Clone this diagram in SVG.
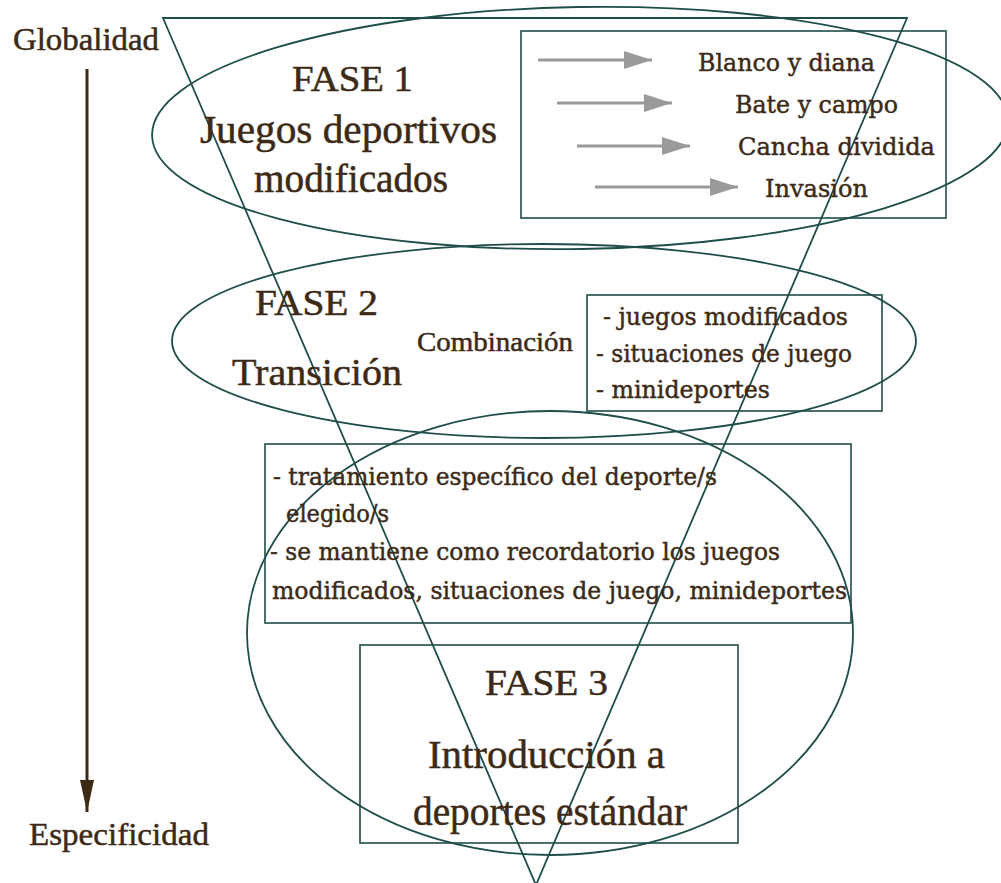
<svg xmlns="http://www.w3.org/2000/svg" width="1001" height="883" viewBox="0 0 1001 883">
  <style>
    .shape { fill: none; stroke: #1f4d48; stroke-width: 1.8; }
    .box { fill: none; stroke: #1f4d48; stroke-width: 1.6; }
    .t { fill: #3c2a17; stroke: #3c2a17; stroke-width: 0.5; font-family: "Liberation Serif", "Times New Roman", serif; }
    .s { fill: #3c2a17; stroke: #3c2a17; stroke-width: 0.45; font-family: "DejaVu Serif", "Liberation Serif", serif; }
    .garrow { stroke: #9a9a9a; stroke-width: 3; fill: none; }
    .axis { stroke: #3b2a14; stroke-width: 3; fill: none; }
  </style>
  <defs>
    <marker id="grayHead" markerUnits="userSpaceOnUse" markerWidth="28" markerHeight="18" refX="28" refY="9" orient="auto">
      <path d="M0,0 L28,9 L0,18 Z" fill="#9a9a9a"/>
    </marker>
    <marker id="axisHead" markerUnits="userSpaceOnUse" markerWidth="14" markerHeight="32" refX="7" refY="32" orient="0">
      <path d="M0,0 L14,0 L7,32 Z" fill="#3b2a14"/>
    </marker>
  </defs>
  <rect width="1001" height="883" fill="#ffffff"/>

  <g id="triangle">
    <polygon class="shape" points="163,18 907,18 536,885"/>
  </g>

  <g id="fase1">
    <ellipse class="shape" cx="580" cy="128" rx="428" ry="121" transform="rotate(-1 580 128)"/>
    <text class="t" x="292" y="91" font-size="36" textLength="121" lengthAdjust="spacingAndGlyphs">FASE 1</text>
    <text class="t" x="200" y="143" font-size="41" textLength="297" lengthAdjust="spacingAndGlyphs">Juegos deportivos</text>
    <text class="t" x="254" y="192" font-size="40" textLength="194" lengthAdjust="spacingAndGlyphs">modificados</text>
  </g>

  <g id="fase1-types">
    <rect class="box" x="521" y="31" width="425" height="187"/>
    <text class="s" x="698" y="71" font-size="25" textLength="177" lengthAdjust="spacingAndGlyphs">Blanco y diana</text>
    <text class="s" x="735" y="113" font-size="25" textLength="163" lengthAdjust="spacingAndGlyphs">Bate y campo</text>
    <text class="s" x="738" y="155" font-size="25" textLength="197" lengthAdjust="spacingAndGlyphs">Cancha dividida</text>
    <text class="s" x="765" y="197" font-size="25" textLength="103" lengthAdjust="spacingAndGlyphs">Invasión</text>
  </g>

  <g id="fase2">
    <ellipse class="shape" cx="544" cy="341" rx="372" ry="97"/>
    <text class="t" x="255" y="315" font-size="35" textLength="123" lengthAdjust="spacingAndGlyphs">FASE 2</text>
    <text class="t" x="232" y="385" font-size="38" textLength="170" lengthAdjust="spacingAndGlyphs">Transición</text>
    <text class="t" x="417" y="351" font-size="28" textLength="156" lengthAdjust="spacingAndGlyphs">Combinación</text>
  </g>

  <g id="fase2-list">
    <rect class="box" x="587" y="295" width="295" height="116"/>
    <text class="s" x="603" y="325" font-size="24" textLength="245" lengthAdjust="spacingAndGlyphs">- juegos modificados</text>
    <text class="s" x="596" y="362" font-size="24" textLength="256" lengthAdjust="spacingAndGlyphs">- situaciones de juego</text>
    <text class="s" x="596" y="398" font-size="24" textLength="174" lengthAdjust="spacingAndGlyphs">- minideportes</text>
  </g>

  <g id="fase3">
    <ellipse class="shape" cx="550" cy="633" rx="303" ry="222"/>
  </g>

  <g id="fase3-details">
    <rect class="box" x="265" y="444" width="586" height="179"/>
    <text class="s" x="273" y="485" font-size="24" textLength="444" lengthAdjust="spacingAndGlyphs">- tratamiento específico del deporte/s</text>
    <text class="s" x="286" y="522" font-size="24" textLength="103" lengthAdjust="spacingAndGlyphs">elegido/s</text>
    <text class="s" x="270" y="560" font-size="24" textLength="510" lengthAdjust="spacingAndGlyphs">- se mantiene como recordatorio los juegos</text>
    <text class="s" x="272" y="599" font-size="24" textLength="575" lengthAdjust="spacingAndGlyphs">modificados, situaciones de juego, minideportes</text>
  </g>

  <g id="fase3-box">
    <rect class="box" x="360" y="645" width="378" height="198"/>
    <text class="t" x="485" y="695" font-size="35" textLength="123" lengthAdjust="spacingAndGlyphs">FASE 3</text>
    <text class="t" x="428" y="768" font-size="41" textLength="237" lengthAdjust="spacingAndGlyphs">Introducción a</text>
    <text class="t" x="413" y="825" font-size="40" textLength="274" lengthAdjust="spacingAndGlyphs">deportes estándar</text>
  </g>

  <g id="axis">
    <text class="t" x="13" y="50" font-size="32" textLength="146" lengthAdjust="spacingAndGlyphs">Globalidad</text>
    <text class="t" x="29" y="845" font-size="32" textLength="180" lengthAdjust="spacingAndGlyphs">Especificidad</text>
  </g>

  <g id="connectors">
    <line class="axis" x1="87" y1="69" x2="87" y2="812" marker-end="url(#axisHead)"/>
    <line class="garrow" x1="538" y1="60" x2="652" y2="60" marker-end="url(#grayHead)"/>
    <line class="garrow" x1="557" y1="103" x2="672" y2="103" marker-end="url(#grayHead)"/>
    <line class="garrow" x1="577" y1="146" x2="690" y2="146" marker-end="url(#grayHead)"/>
    <line class="garrow" x1="595" y1="187" x2="738" y2="187" marker-end="url(#grayHead)"/>
  </g>
</svg>
